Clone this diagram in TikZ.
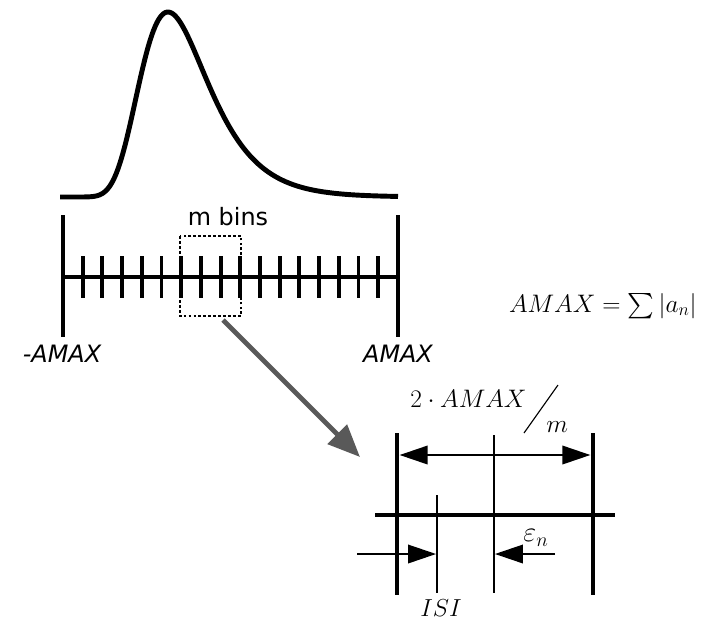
\RequirePackage{fix-cm}
\documentclass[tikz,border=0pt]{standalone}
\usepackage{amsmath, amssymb}
\usepackage{fontspec}
\setsansfont{DejaVu Sans}
\usepackage{tikz}
\usetikzlibrary{arrows.meta, positioning}

\begin{document}
\begin{tikzpicture}[x=0.025cm, y=-0.025cm,
    >={Triangle[length=20pt, width=13pt]},
    thickbar/.style={line width=3.5pt},
    tickbar/.style={line width=2.8pt},
    thinbar/.style={line width=1.2pt},
    dimarrow/.style={line width=1.9pt},
    binbox/.style={line width=1pt, dash pattern=on 2pt off 1.5pt},
    zoomarrow/.style={line width=3.5pt, color=black!65,
        -{Triangle[length=23pt, width=19pt]}},
    lbl/.style={font=\sffamily\fontsize{17}{20}\selectfont, inner sep=0pt},
    mathlbl/.style={font=\fontsize{18}{20}\selectfont, inner sep=0pt},
    smlbl/.style={font=\fontsize{17.5}{20}\selectfont, inner sep=0pt}]
    \useasboundingbox (0,0) rectangle (701,627);

    % Duong cong phan bo
    \draw[thickbar, line join=round, samples=200, domain=60:398]
        plot (\x, {197-185*exp(1-(\x-168)/34-exp(-(\x-168)/34))});

    % Thang do voi cac vach
    \coordinate (lo) at (63,277);
    \coordinate (hi) at (398,277);
    \draw[thickbar] (63,215) -- (63,337);
    \draw[thickbar] (398,215) -- (398,337);
    \draw[thickbar] (lo) -- (hi);
    \foreach \i in {1,...,16}
        \draw[tickbar] ({63+\i*19.7},256) -- ({63+\i*19.7},298);
    \node[lbl, font=\sffamily\itshape\fontsize{17}{20}\selectfont, anchor=base]
        (amin) at (62,362) {-AMAX};
    \node[lbl, font=\sffamily\itshape\fontsize{17}{20}\selectfont, anchor=base]
        (amax) at (398,362) {AMAX};

    % O m bins
    \draw[binbox] (180,236) rectangle (241,316);
    \node[lbl, anchor=base] (mbins) at (228,225) {m bins};

    % Mui ten phong to
    \coordinate (zoomfrom) at (223,320);
    \coordinate (zoomto) at (360,457);
    \draw[zoomarrow] (zoomfrom) -- (zoomto);

    % Cong thuc AMAX
    \node[mathlbl, anchor=base east] (amaxdef) at (697,312)
        {$AMAX = \sum|a_n|$};

    % Chi tiet mot bin
    \draw[thickbar] (397,433) -- (397,595);
    \draw[thickbar] (593,433) -- (593,595);
    \draw[thinbar] (494,435) -- (494,593);
    \draw[thinbar] (437,495) -- (437,593);
    \draw[thickbar] (375,515) -- (615,515);

    \coordinate (spanL) at (397,455);
    \coordinate (spanR) at (593,455);
    \draw[dimarrow, <->, shorten <=1.8pt, shorten >=1.8pt] (spanL) -- (spanR);
    \coordinate (isiin) at (357,554);
    \coordinate (isitip) at (437,554);
    \draw[dimarrow, ->, shorten >=0.6pt] (isiin) -- (isitip);
    \coordinate (epsin) at (555,554);
    \coordinate (epstip) at (494,554);
    \draw[dimarrow, ->, shorten >=0.6pt] (epsin) -- (epstip);

    \node[mathlbl, anchor=base west] (span) at (410,407) {$2\cdot AMAX$};
    \node[mathlbl, anchor=base west] (binm) at (546,432) {$m$};
    \draw[line width=0.8pt] (524,433) -- (558,385);

    \node[smlbl, font=\fontsize{20}{22}\selectfont] (eps) at (536,538)
        {$\varepsilon_n$};
    \node[smlbl, anchor=base] (isi) at (441,616) {$ISI$};
\end{tikzpicture}
\end{document}
